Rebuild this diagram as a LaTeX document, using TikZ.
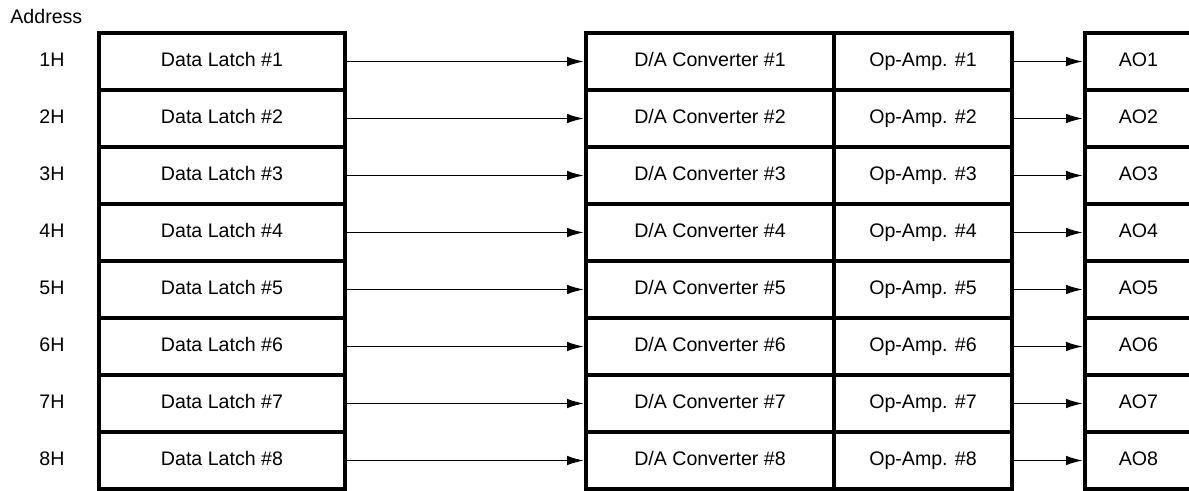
\documentclass[tikz,border=0pt]{standalone}
\usepackage{fontspec}
\setmainfont{Liberation Sans}
\usetikzlibrary{arrows.meta}
\begin{document}
\begin{tikzpicture}[x=0.5pt,y=-0.5pt,
  blk/.style={draw,line width=2pt,rectangle,inner sep=0pt,outer sep=1pt,
    minimum height=28.5pt,text height=7pt,text depth=2pt,
    font=\fontsize{9.8}{12}\selectfont},
  lbl/.style={inner sep=0pt,text height=7pt,text depth=2pt,
    font=\fontsize{9.8}{12}\selectfont},
  conn/.style={line width=0.85pt,-{Latex[length=8.5pt,width=4.8pt]}}]
\useasboundingbox (0,0) rectangle (1189,491);
\begin{scope}
\clip (0,0) rectangle (1189,491);
\node[lbl,anchor=west] (addr) at (10,19) {Address};
\foreach \i in {1,...,8}{
  \pgfmathsetmacro{\yc}{61.5+57*(\i-1)}
  \node[lbl] (h\i) at (52,\yc) {\i H};
  \node[blk,minimum width=123pt] (dl\i) at (222,\yc) {Data Latch \#\i};
  \node[blk,minimum width=124pt] (da\i) at (710,\yc) {D/A Converter \#\i};
  \node[blk,minimum width=89pt] (op\i) at (923,\yc) {Op-Amp. \#\i};
  \node[blk,minimum width=53.5pt] (ao\i) at (1138.5,\yc) {AO\i};
  \draw[conn] (dl\i.east) -- (da\i.west);
  \draw[conn] (op\i.east) -- (ao\i.west);
}
\end{scope}
\end{tikzpicture}
\end{document}
